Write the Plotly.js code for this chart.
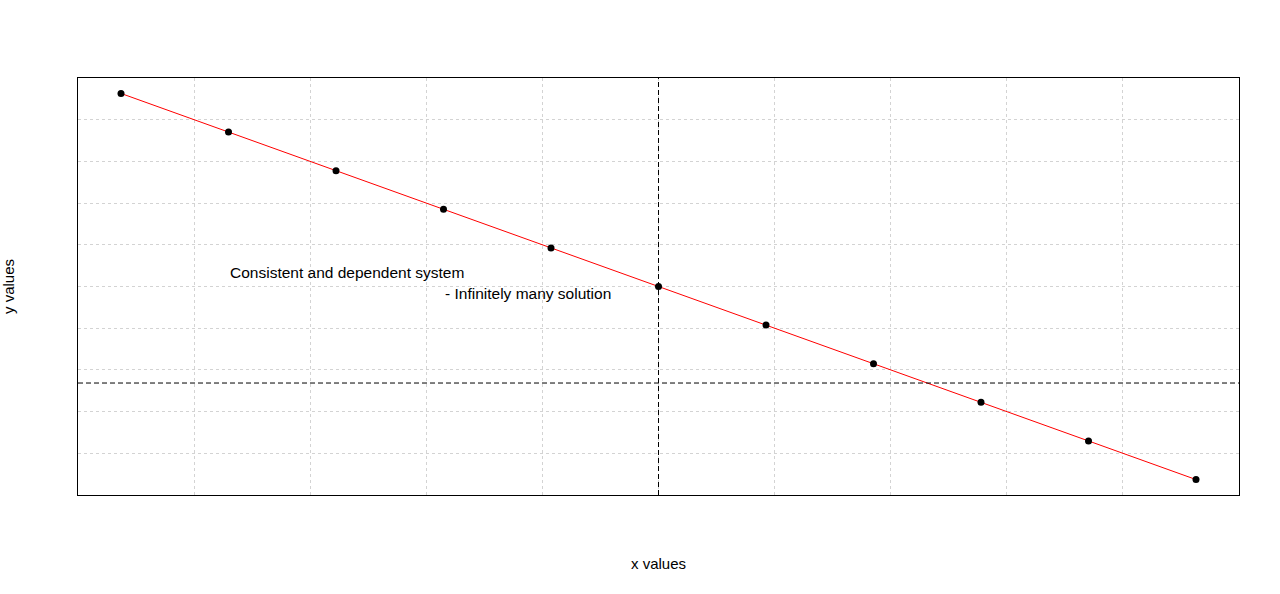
<!DOCTYPE html>
<html>
<head>
<meta charset="utf-8">
<script src="https://cdn.plot.ly/plotly-3.0.1.min.js"></script>
<style>html,body{margin:0;padding:0;background:#fff;}#chart{width:1280px;height:594px;}</style>
</head>
<body>
<div id="chart"></div>
<script>
// data
var xValues = [-5, -4, -3, -2, -1, 0, 1, 2, 3, 4, 5];
var yValues = [15, 13, 11, 9, 7, 5, 3, 1, -1, -3, -5];
var refX = 0;   // vertical reference line
var refY = 0;   // horizontal reference line
var labelTexts = ["Consistent and dependent system", "- Infinitely many solution"];
var labelX = [-2.9, -1.21];
var labelY = [5.75, 4.66];
var xTitle = "x values";
var yTitle = "y values";

var FONT = "Liberation Sans, Arial, sans-serif";

// R-style 4% axis padding and grid(10,10)
function padRange(v) {
  var mn = Math.min.apply(null, v), mx = Math.max.apply(null, v);
  var d = (mx - mn) * 0.04;
  return [mn - d, mx + d];
}
var xr = padRange(xValues), yr = padRange(yValues);

var traces = [
  {x: xValues, y: yValues, type: 'scatter', mode: 'lines',
   line: {color: 'red', width: 1}, hoverinfo: 'skip', showlegend: false},
  {x: xValues, y: yValues, type: 'scatter', mode: 'markers',
   marker: {color: 'black', size: 7}, showlegend: false}
];

var shapes = [
  {type: 'line', xref: 'x', yref: 'paper', x0: refX, x1: refX, y0: 0, y1: 1,
   line: {color: 'black', width: 1, dash: '5px,3px'}},
  {type: 'line', xref: 'paper', yref: 'y', x0: 0, x1: 1, y0: refY, y1: refY,
   line: {color: 'black', width: 1, dash: '5px,3px'}}
];

var annotations = labelTexts.map(function (t, i) {
  return {x: labelX[i], y: labelY[i], xref: 'x', yref: 'y', text: t, showarrow: false,
          xanchor: 'center', yanchor: 'middle', font: {family: FONT, size: 15.5, color: 'black'}};
});

var layout = {
  width: 1280, height: 594,
  margin: {l: 78, r: 41, t: 78, b: 99},
  paper_bgcolor: 'white', plot_bgcolor: 'white',
  font: {family: FONT, size: 15, color: 'black'},
  xaxis: {
    range: xr, autorange: false, showticklabels: false, ticks: '',
    tickmode: 'linear', tick0: xr[0], dtick: (xr[1] - xr[0]) / 10,
    showgrid: true, gridcolor: '#d3d3d3', gridwidth: 1, griddash: 'dot',
    zeroline: false, showline: true, mirror: true, linecolor: 'black', linewidth: 1,
    title: {text: xTitle, standoff: 63, font: {family: FONT, size: 15, color: 'black'}}
  },
  yaxis: {
    range: yr, autorange: false, showticklabels: false, ticks: '',
    tickmode: 'linear', tick0: yr[0], dtick: (yr[1] - yr[0]) / 10,
    showgrid: true, gridcolor: '#d3d3d3', gridwidth: 1, griddash: 'dot',
    zeroline: false, showline: true, mirror: true, linecolor: 'black', linewidth: 1,
    title: {text: yTitle, standoff: 58, font: {family: FONT, size: 15, color: 'black'}}
  },
  shapes: shapes,
  annotations: annotations
};

Plotly.newPlot('chart', traces, layout, {displayModeBar: false, staticPlot: true});
</script>
</body>
</html>
